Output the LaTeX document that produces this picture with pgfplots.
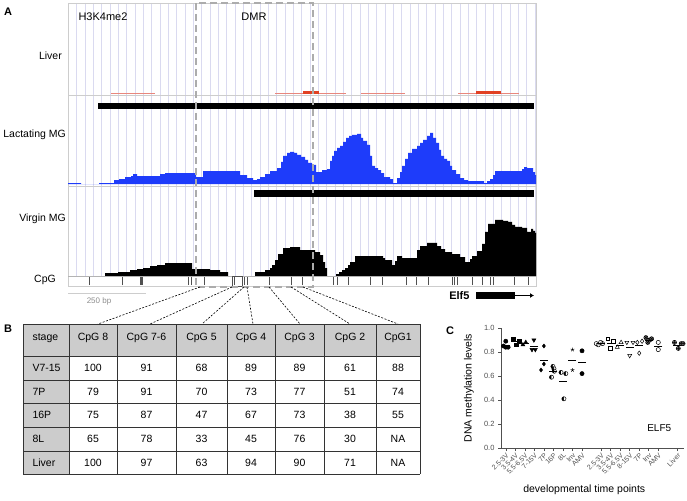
\documentclass[border=0pt]{standalone}
\usepackage{pgfplots}
\pgfplotsset{compat=1.18}
\usepackage{fontspec}
\setmainfont{Liberation Sans}
\usetikzlibrary{plotmarks,arrows.meta}

\definecolor{gridc}{RGB}{218,218,240}
\definecolor{sepc}{RGB}{205,205,205}
\definecolor{lacblue}{RGB}{30,60,250}
\definecolor{livlight}{RGB}{232,135,125}
\definecolor{livdark}{RGB}{225,65,35}
\definecolor{dmrc}{RGB}{172,172,172}
\definecolor{cellgray}{RGB}{204,204,204}
\definecolor{axc}{RGB}{80,80,80}

\pgfplotsset{
  track/.style={scale only axis, hide axis, width=468pt, xmin=68, xmax=536,
    clip=false, anchor=south west},
}

\begin{document}
\begin{tikzpicture}[font=\fontsize{11}{13}\selectfont]

% ---------- panel A: browser tracks ----------
\begin{scope}[x=1pt,y=1pt]
\foreach \i in {0,...,55}
  \draw[gridc, line width=0.6pt] ({76.7+8.33*\i},-3) -- ({76.7+8.33*\i},-276);
\draw[sepc, line width=0.7pt] (68,-3) -- (536,-3);
\draw[sepc, line width=0.7pt] (68,-95) -- (536,-95);
\draw[sepc, line width=0.7pt] (68,-186) -- (536,-186);
\draw[sepc, line width=0.7pt] (68,-3) -- (68,-286) -- (536,-286) -- (536,-3);
\draw[sepc, line width=0.7pt] (68,-276) -- (536,-276);
\end{scope}

% Liver H3K4me2 calls
\begin{axis}[track, at={(68pt,-95pt)}, height=10pt, ymin=0, ymax=10]
\addplot[livlight, line width=1.8pt, unbounded coords=jump] coordinates {
  (111,1.5)(155,1.5)(155,nan)
  (275,1.5)(346,1.5)(346,nan)
  (361,1.5)(405,1.5)(405,nan)
  (458,1.5)(519,1.5)};
\addplot[livdark, line width=3.5pt, unbounded coords=jump] coordinates {
  (303,2.5)(319,2.5)(319,nan)
  (476,2.5)(501,2.5)};
\end{axis}

% Lactating MG
\begin{axis}[track, at={(68pt,-184pt)}, height=50pt, ymin=0, ymax=50]
\addplot[const plot, fill=lacblue, draw=none] coordinates {
  (68,1)(81,0)(99,1)(114,4)(119,5)(125,7)(131,8)(133,10)(137,8)(152,8)(160,10)
  (165,11)(196,7)(200,7)(203,13)(240,9)(247,6)(253,4)(257,5)(260,7)(265,10)
  (270,13)(277,16)(281,22)(283,28)(287,31)(290,32)(294,31)(297,29)(301,27)
  (305,24)(308,21)(312,19)(316,12)(319,12)(322,14)(327,15)(330,23)(332,28)
  (334,33)(337,36)(340,38)(343,42)(346,46)(349,48)(352,49)(357,50)(361,46)
  (363,43)(367,39)(370,28)(372,18)(375,16)(378,14)(381,11)(384,7)(390,5)
  (393,1)(397,6)(400,12)(402,18)(405,25)(408,31)(412,35)(417,38)(420,41)
  (423,44)(427,48)(430,51)(433,46)(436,41)(439,34)(441,28)(444,25)(447,23)
  (450,18)(452,14)(456,10)(460,6)(464,4)(468,3)(478,3)(484,1)(487,3)(490,5)
  (493,9)(495,13)(520,13)(522,15)(524,17)(527,16)(530,16)(533,12)(535,9)(536,9)
} \closedcycle;
\addplot[black, line width=6pt] coordinates {(98,78)(534,78)};
\end{axis}

% Virgin MG
\begin{axis}[track, at={(68pt,-276pt)}, height=60pt, ymin=0, ymax=60]
\addplot[const plot, fill=black, draw=none] coordinates {
  (68,0)(105,3)(118,4)(130,6)(137,7)(143,8)(150,10)(157,11)(165,13)(192,7)
  (200,7)(210,6)(220,4)(228,0)(255,4)(265,6)(270,8)(272,11)(275,16)(278,22)
  (283,28)(290,29)(300,26)(312,26)(315,24)(320,21)(323,14)(325,8)(327,0)
  (336,2)(339,4)(342,6)(345,8)(348,11)(350,14)(355,20)(380,20)(383,18)
  (385,16)(392,11)(395,15)(397,20)(402,18)(407,18)(417,26)(420,30)(427,33)
  (435,33)(437,30)(441,27)(445,24)(452,22)(460,19)(465,14)(470,17)(472,20)
  (477,25)(482,32)(485,44)(488,52)(495,56)(503,55)(508,54)(512,51)(515,49)
  (522,48)(527,44)(531,47)(533,45)(535,43)(536,43)
} \closedcycle;
\addplot[black, line width=6.5pt] coordinates {(254,82.5)(534,82.5)};
\end{axis}

% CpG positions
\begin{axis}[track, at={(68pt,-286pt)}, height=10pt, ymin=-1, ymax=9]
\addplot[ycomb, axc, line width=0.8pt] coordinates {
  (89,8)(122,8)(140,8)(141,8)(142,8)(188,8)(191,8)(204,8)(232,8)(234,8)
  (244,8)(247,8)(269,8)(291,8)(302,8)(333,8)(337,8)(348,8)(370,8)(382,8)
  (406,8)(416,8)(428,8)(452,8)(454,8)(457,8)(472,8)(482,8)(490,8)(493,8)
  (514,8)(528,8)};
\end{axis}

\begin{scope}[x=1pt,y=1pt]
\draw[axc, line width=0.5pt] (232,-276) rectangle (242,-286);

% DMR box
\draw[dmrc, line width=2pt, dash pattern=on 7pt off 4pt] (196,-3) rectangle (313,-287);

\node[font=\bfseries\fontsize{11}{13}\selectfont] at (8,-12) {A};
\node[anchor=west] at (75,-17) {H3K4me2};
\node at (254,-17) {DMR};
\begin{scope}[font=\fontsize{10.5}{12}\selectfont, inner sep=0pt]
\node[anchor=east] at (62,-56) {Liver};
\node[anchor=east] at (66,-135) {Lactating MG};
\node[anchor=east] at (66,-219) {Virgin MG};
\node[anchor=east] at (56,-280) {CpG};
\end{scope}

\draw[sepc, line width=0.8pt] (68,-293) -- (146,-293);
\node[text=black!45, font=\fontsize{8}{9}\selectfont] at (99,-301) {250 bp};
\node[anchor=east, font=\bfseries\fontsize{11}{13}\selectfont] at (473,-296) {Elf5};
\fill[black] (476,-292) rectangle (515,-299);
\draw[black, line width=0.8pt, -{Latex[length=4pt,width=5pt]}] (515,-295.5) -- (534,-295.5);

% connectors to the table
\foreach \a/\b in {200/98, 232/150, 244/202, 247/253, 269/300, 291/350, 303/398}
  \draw[black, line width=0.6pt, dash pattern=on 2pt off 1.5pt] (\a,-287) -- (\b,-324);

% ---------- panel B: table ----------
\node[font=\bfseries\fontsize{11}{13}\selectfont] at (8,-329) {B};
\fill[cellgray] (23,-324) rectangle (420,-356);
\fill[cellgray] (23,-356) rectangle (69,-474);
\foreach \y in {324,356,380,403,427,451,474}
  \draw[black!80, line width=0.8pt] (23,-\y) -- (420,-\y);
\foreach \x in {23,69,117,176,227,275,324,376,420}
  \draw[black!80, line width=0.8pt] (\x,-324) -- (\x,-474);
\begin{scope}[font=\fontsize{10.5}{12}\selectfont]
\node[anchor=west] at (29,-338) {stage};
\foreach \x/\t in {93/CpG 8, 146.5/CpG 7-6, 201.5/CpG 5, 251/CpG 4, 299.5/CpG 3, 350/CpG 2, 398/CpG1}
  \node at (\x,-338) {\t};
\foreach \y/\s/\a/\b/\c/\d/\e/\f/\g in {
    368/V7-15/100/91/68/89/89/61/88,
    391.5/7P/79/91/70/73/77/51/74,
    415/16P/75/87/47/67/73/38/55,
    439/8L/65/78/33/45/76/30/NA,
    462.5/Liver/100/97/63/94/90/71/NA} {
  \node[anchor=west] at (29,-\y) {\s};
  \node at (93,-\y) {\a};
  \node at (146.5,-\y) {\b};
  \node at (201.5,-\y) {\c};
  \node at (251,-\y) {\d};
  \node at (299.5,-\y) {\e};
  \node at (350,-\y) {\f};
  \node at (398,-\y) {\g};
}
\end{scope}

\node[font=\bfseries\fontsize{11}{13}\selectfont] at (450,-331) {C};
\end{scope}

% ---------- panel C: scatter ----------
\begin{axis}[at={(501pt,-448pt)}, anchor=south west, scale only axis,
  width=183pt, height=120pt,
  xmin=0.5, xmax=19.7, ymin=0, ymax=1,
  axis lines*=left, axis line style={axc, -}, clip=false,
  tick align=outside, tick style={axc, line width=0.5pt}, major tick length=3pt,
  xtick={1,2,3,4,5,6,7,8,9,11,12,13,14,15,16,17,19},
  xticklabels={2.5-3V,3.5-4V,5.5-6.5V,7-15V,7P,16P,8L,Inv,AMV,2.5-3V,3.5-4V,5.5-6.5V,8-15V,7P,Inv,AMV,Liver},
  xticklabel style={rotate=45, anchor=north east, font=\fontsize{7}{8}\selectfont, text=axc, inner sep=1pt},
  ytick={0,0.2,0.4,0.6,0.8,1},
  yticklabel={\pgfmathprintnumber[fixed,fixed zerofill,precision=1]{\tick}},
  yticklabel style={font=\fontsize{7.5}{8}\selectfont, text=axc},
  /pgf/number format/assume math mode=true,
  ylabel={DNA methylation levels},
  ylabel style={at={(axis description cs:-0.175,0.5)}, anchor=center, font=\fontsize{10.5}{12}\selectfont},
  xlabel={developmental time points},
  xlabel style={at={(axis description cs:0.455,-0.35)}, anchor=center, font=\fontsize{10.5}{12}\selectfont},
  every axis plot/.append style={only marks, black, mark size=2.1pt, line width=0.5pt},
]
% group 1 (filled)
\addplot[mark=*] coordinates {(0.75,0.85)(1.0,0.84)(1.25,0.84)(1.0,0.89)};
\addplot[mark=square*, mark size=1.9pt] coordinates {(1.8,0.91)(2.1,0.86)(2.4,0.89)};
\addplot[mark=triangle*, mark size=2.3pt] coordinates {(2.8,0.86)(3.1,0.88)};
\addplot[mark=triangle*, mark size=2.3pt, mark options={rotate=180}] coordinates {(3.75,0.82)(3.95,0.90)(4.1,0.82)};
\addplot[mark=diamond*, mark size=2pt] coordinates {(4.7,0.65)(5.0,0.85)(5.0,0.70)};
\addplot[mark=halfcircle*, mark options={rotate=90}] coordinates {(5.8,0.59)(5.95,0.68)(6.05,0.66)(6.1,0.64)};
\addplot[mark=halfcircle*, mark options={rotate=90}] coordinates {(6.8,0.63)(7.1,0.41)(7.3,0.62)};
\addplot[mark=star, mark size=2pt] coordinates {(8.0,0.82)(8.0,0.65)};
\addplot[mark=*] coordinates {(9.0,0.81)(9.0,0.62)};
% group 2 (open)
\addplot[mark=o] coordinates {(10.5,0.87)(10.7,0.86)(10.95,0.88)(11.15,0.87)};
\addplot[mark=square, mark size=1.9pt] coordinates {(11.7,0.91)(12.25,0.89)(12.0,0.83)};
\addplot[mark=triangle, mark size=2.3pt] coordinates {(12.7,0.84)(13.1,0.88)};
\addplot[mark=triangle, mark size=2.3pt, mark options={rotate=180}] coordinates {(13.7,0.88)(14.0,0.77)(14.35,0.88)};
\addplot[mark=diamond, mark size=2.2pt] coordinates {(14.8,0.88)(15.0,0.79)(15.3,0.89)};
\addplot[mark=otimes*, mark options={fill=black!55}] coordinates {(15.7,0.92)(15.9,0.88)(16.1,0.90)(16.3,0.91)};
\addplot[mark=o] coordinates {(17.0,0.88)(17.0,0.82)};
% liver
\addplot[mark=oplus*, mark options={fill=black!55}] coordinates {(18.7,0.88)(19.1,0.83)(19.4,0.87)(19.6,0.87)};
% group means
\addplot[mark=-, mark size=4pt] coordinates {
  (1,0.855)(2,0.887)(3,0.87)(4,0.847)(5,0.733)(6,0.643)(7,0.553)(8,0.735)(9,0.715)
  (11,0.87)(12,0.877)(13,0.86)(14,0.843)(15,0.853)(16,0.90)(17,0.85)(19,0.86)};
\node[font=\fontsize{10}{12}\selectfont] at (axis cs:17.1,0.167) {ELF5};
\end{axis}

\pgfresetboundingbox
\useasboundingbox (0,-500pt) rectangle (687pt,0);
\end{tikzpicture}
\end{document}
